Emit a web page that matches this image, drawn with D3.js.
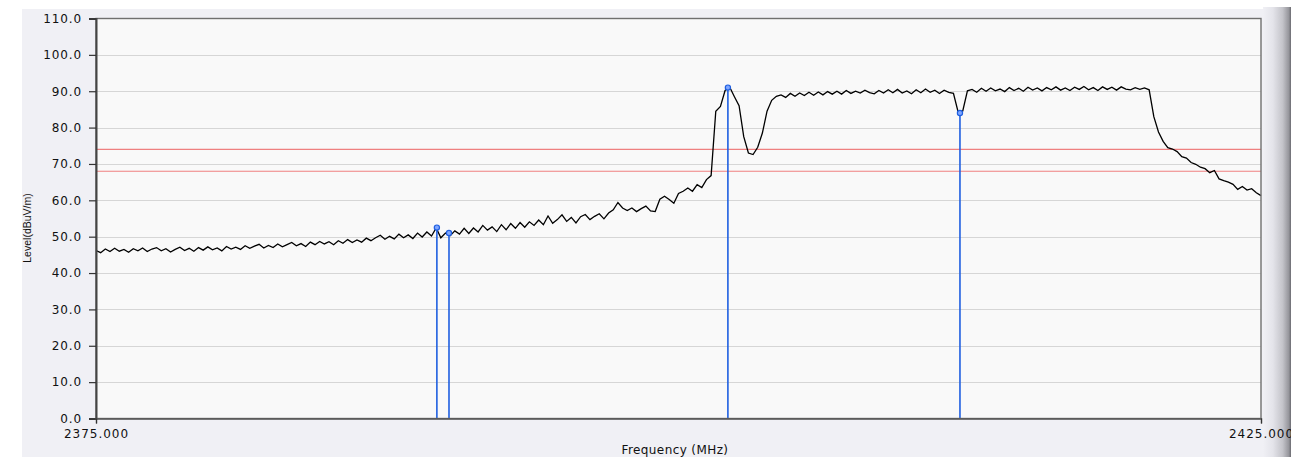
<!DOCTYPE html>
<html>
<head>
<meta charset="utf-8">
<script src="https://cdn.jsdelivr.net/npm/d3@7"></script>
<style>
  html, body { margin: 0; padding: 0; background: #ffffff; }
  svg { display: block; }
</style>
</head>
<body>
<svg id="chart" width="1301" height="457"></svg>
<script>
// ---------------- data ----------------
const startFreq = 2375.0;   // MHz
const stepFreq = 0.2;       // MHz per sweep point
const levels = [
  46.2, 45.6, 46.6, 45.9, 46.8, 46.0, 46.5, 45.7, 46.7, 46.1,
  46.9, 45.9, 46.6, 47.0, 46.1, 46.7, 45.8, 46.5, 47.1, 46.2,
  46.8, 46.0, 47.0, 46.3, 47.2, 46.4, 46.9, 46.1, 47.3, 46.6,
  47.1, 46.5, 47.5, 46.8, 47.4, 47.9, 46.9, 47.6, 47.0, 48.0,
  47.2, 47.8, 48.4, 47.5, 48.1, 47.3, 48.5, 47.8, 48.7, 48.0,
  48.6, 47.8, 48.9, 48.2, 49.2, 48.4, 49.1, 48.5, 49.6, 48.9,
  49.7, 50.4, 49.3, 50.1, 49.4, 50.7, 49.7, 50.5, 49.5, 51.0,
  49.9, 51.3, 50.2, 52.4, 49.7, 51.0, 50.3, 51.6, 50.7, 52.3,
  50.9, 52.4, 51.3, 53.1, 51.8, 52.7, 51.4, 53.3, 51.9, 53.6,
  52.3, 53.9, 52.6, 54.1, 53.1, 54.6, 53.3, 55.7, 53.7, 54.7,
  56.0, 54.2, 55.3, 53.8, 55.5, 56.1, 54.7, 55.6, 56.3, 54.9,
  56.5, 57.4, 59.4, 57.9, 57.2, 57.9, 56.9, 57.7, 58.4, 57.1,
  56.9, 60.3, 61.1, 60.2, 59.2, 61.9, 62.5, 63.4, 62.5, 64.3,
  63.5, 65.7, 66.8, 84.5, 85.8, 90.2, 91.1, 88.5, 86.0, 77.5,
  73.0, 72.6, 74.6, 78.5, 84.5, 87.5, 88.6, 89.0, 88.3, 89.4,
  88.6, 89.5, 88.8, 89.7, 88.9, 89.8, 89.0, 89.9, 89.2, 90.0,
  89.2, 90.2, 89.4, 90.0, 89.5, 90.3, 89.6, 89.3, 90.2, 89.5,
  90.4, 89.6, 90.5, 89.5, 90.1, 89.3, 90.4, 89.6, 90.6, 89.7,
  90.3, 89.4, 90.3, 89.7, 89.4, 84.3, 84.6, 90.1, 90.5, 89.7,
  90.8, 90.0, 90.9, 90.1, 90.6, 89.9, 91.0, 90.2, 90.8, 90.0,
  91.1, 90.3, 90.9, 90.1, 91.0, 90.4, 91.2, 90.3, 90.9, 90.2,
  91.1, 90.5, 91.3, 90.4, 91.0, 90.2, 91.2, 90.5, 91.1, 90.3,
  91.2, 90.6, 90.4, 91.0, 90.5, 90.9, 90.4, 83.0, 78.8, 76.2,
  74.5, 74.1, 73.4, 72.0, 71.6, 70.4, 69.9, 69.1, 68.7, 67.6,
  68.2, 65.9, 65.4, 65.0, 64.4, 63.0, 63.8, 62.8, 63.2, 62.1,
  61.3
];
const markerFreqs = [2389.63, 2390.15, 2402.12, 2412.08];
const markerLevels = [52.5, 51.0, 91.0, 84.0];
const limitLevels = [74.0, 68.0];
const yTicks = [0, 10, 20, 30, 40, 50, 60, 70, 80, 90, 100, 110];
const xTicks = [2375, 2425];
const xTitle = "Frequency (MHz)";
const yTitle = "Level(dBuV/m)";

// ---------------- layout ----------------
const svg = d3.select("#chart");
const pL = 96, pR = 1261, pT = 18.5, pB = 418.5;

const x = d3.scaleLinear().domain([2375, 2425]).range([pL, pR]);
const y = d3.scaleLinear().domain([0, 110]).range([pB, pT]);

// outer panel
svg.append("rect").attr("x", 22).attr("y", 9).attr("width", 1270).attr("height", 448)
  .attr("fill", "#f0f0f5");

// right-side scroll bar look (under the tick labels)
const defs = svg.append("defs");
const grad = defs.append("linearGradient").attr("id", "bar").attr("x1", "0").attr("x2", "1");
grad.append("stop").attr("offset", "0%").attr("stop-color", "#f0f0f5");
grad.append("stop").attr("offset", "35%").attr("stop-color", "#e4e4ea");
grad.append("stop").attr("offset", "70%").attr("stop-color", "#c4c4ca");
grad.append("stop").attr("offset", "92%").attr("stop-color", "#96969c");
grad.append("stop").attr("offset", "100%").attr("stop-color", "#6c6c72");
svg.append("rect").attr("x", 1263).attr("y", 7).attr("width", 28).attr("height", 450)
  .attr("fill", "url(#bar)");

// plot area
svg.append("rect").attr("x", pL).attr("y", pT).attr("width", pR - pL).attr("height", pB - pT)
  .attr("fill", "#f9f9f9");

// grid
svg.append("g").selectAll("line").data(yTicks.filter(d => d > 0 && d < 110)).join("line")
  .attr("x1", pL).attr("x2", pR)
  .attr("y1", d => Math.round(y(d)) + 0.5).attr("y2", d => Math.round(y(d)) + 0.5)
  .attr("stroke", "#d6d6d6").attr("stroke-width", 1);

// limit lines
svg.append("g").selectAll("line").data(limitLevels).join("line")
  .attr("x1", pL).attr("x2", pR)
  .attr("y1", d => y(d)).attr("y2", d => y(d))
  .attr("stroke", "#ef8080").attr("stroke-width", 1.2);

// trace
const pts = levels.map((v, i) => [startFreq + i * stepFreq, v]);
svg.append("path").datum(pts)
  .attr("fill", "none").attr("stroke", "#000").attr("stroke-width", 1.3)
  .attr("stroke-linejoin", "miter").attr("stroke-miterlimit", 3)
  .attr("d", d3.line().x(d => x(d[0])).y(d => y(d[1])));

// markers
const mk = markerFreqs.map((f, i) => ({ f, v: markerLevels[i] }));
svg.append("g").selectAll("line").data(mk).join("line")
  .attr("x1", d => x(d.f)).attr("x2", d => x(d.f))
  .attr("y1", d => y(d.v)).attr("y2", pB)
  .attr("stroke", "#1f5fe0").attr("stroke-width", 1.6);
svg.append("g").selectAll("circle").data(mk).join("circle")
  .attr("cx", d => x(d.f)).attr("cy", d => y(d.v)).attr("r", 2.6)
  .attr("fill", "#7fa6ff").attr("stroke", "#1f5fe0").attr("stroke-width", 1.2);

// frame
svg.append("rect").attr("x", pL).attr("y", pT).attr("width", pR - pL).attr("height", pB - pT)
  .attr("fill", "none").attr("stroke", "#6f6f6f").attr("stroke-width", 1.4);

// y axis
const yAxis = svg.append("g").attr("transform", `translate(${pL},0)`)
  .call(d3.axisLeft(y).tickValues(yTicks).tickSize(7).tickPadding(7).tickFormat(d3.format(".1f")));
yAxis.select(".domain").attr("stroke", "#444").attr("stroke-width", 2);
yAxis.selectAll(".tick line").attr("stroke", "#333").attr("stroke-width", 1.2);
yAxis.selectAll("text").attr("font-family", "DejaVu Sans, Verdana, sans-serif")
  .attr("font-size", 12).attr("letter-spacing", "0.9px").attr("fill", "#111");

// x axis
const xAxis = svg.append("g").attr("transform", `translate(0,${pB})`)
  .call(d3.axisBottom(x).tickValues(xTicks).tickSize(5).tickPadding(6).tickFormat(d3.format(".3f")));
xAxis.select(".domain").attr("stroke", "#555").attr("stroke-width", 1.5);
xAxis.selectAll(".tick line").attr("stroke", "#333");
xAxis.selectAll("text").attr("font-family", "DejaVu Sans, Verdana, sans-serif")
  .attr("font-size", 12).attr("letter-spacing", "1px").attr("fill", "#111");

// axis titles
svg.append("text").attr("x", 675).attr("y", 454).attr("text-anchor", "middle")
  .attr("font-family", "DejaVu Sans, Verdana, sans-serif").attr("font-size", 12)
  .attr("letter-spacing", "0.4px").attr("fill", "#111").text(xTitle);
svg.append("text").attr("transform", "translate(31,228) rotate(-90)").attr("text-anchor", "middle")
  .attr("font-family", "Liberation Sans, Arial, sans-serif").attr("font-size", 10.5)
  .attr("fill", "#111").text(yTitle);

// white strip beyond the bar
svg.append("rect").attr("x", 1291).attr("y", 0).attr("width", 10).attr("height", 457)
  .attr("fill", "#ffffff");
</script>
</body>
</html>
